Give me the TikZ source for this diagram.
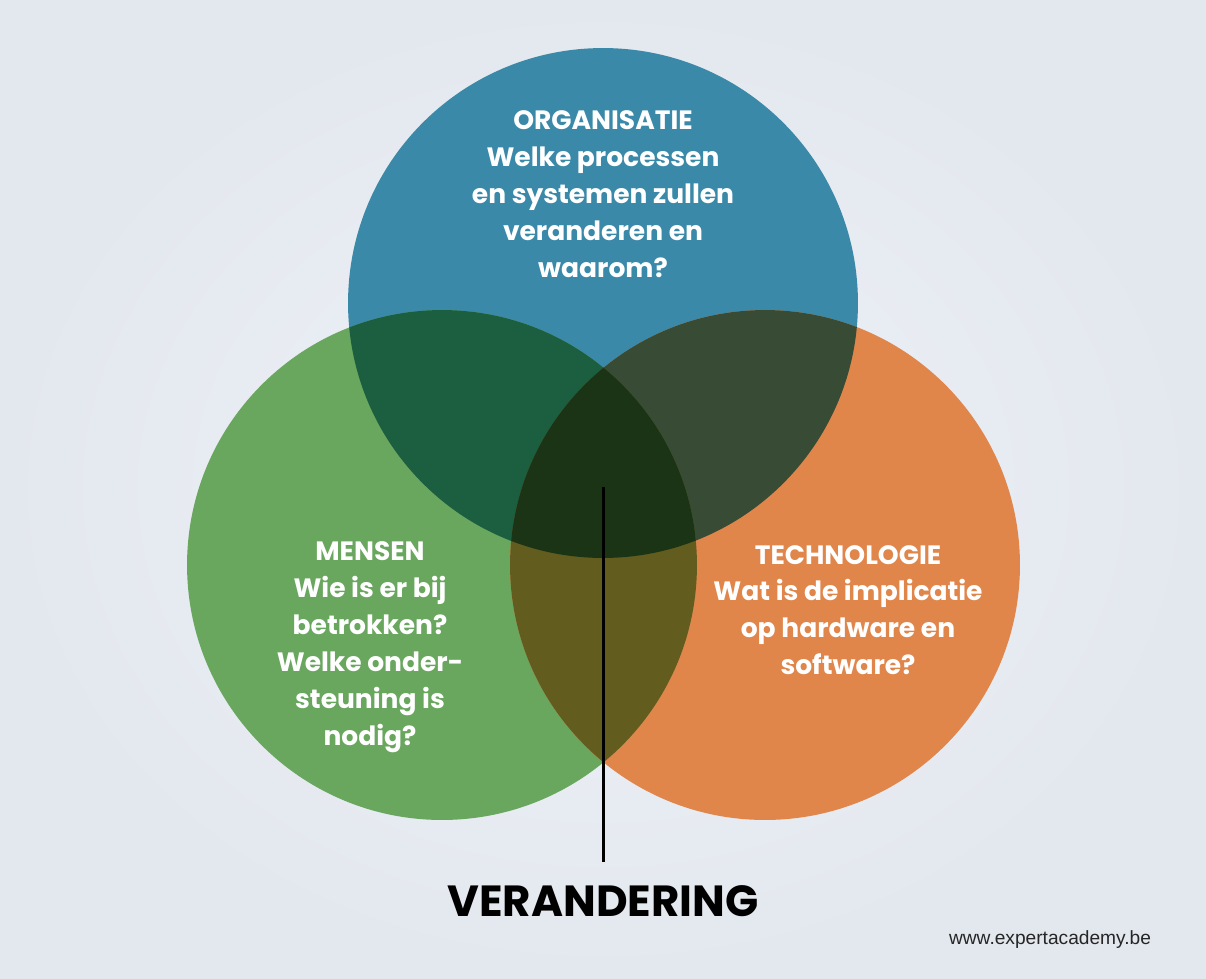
\documentclass[tikz,border=0pt]{standalone}
\usepackage{fontspec}
\setmainfont{Poppins}
\newfontfamily\webfont{Liberation Sans}
\usetikzlibrary{positioning}

\definecolor{orgblue}{HTML}{3A89A8}
\definecolor{mengreen}{HTML}{69A65E}
\definecolor{techorange}{HTML}{E0864B}
\definecolor{orgmen}{HTML}{1C5E40}
\definecolor{orgtech}{HTML}{384B35}
\definecolor{mentech}{HTML}{635C1F}
\definecolor{allthree}{HTML}{1B3416}
\definecolor{bginner}{HTML}{EFF3F9}
\definecolor{bgouter}{HTML}{E3E7EE}

\begin{document}
\begin{tikzpicture}[
    x=0.02cm, y=-0.02cm,
    circletext/.style={text=white, align=center, font=\bfseries\fontsize{15.1}{21}\selectfont},
    bigtitle/.style={text=black, font=\bfseries\fontsize{24.8}{30}\selectfont, inner sep=0pt},
    weblabel/.style={text=black!85, font=\webfont\fontsize{10.9}{13}\selectfont},
    pointer/.style={line width=1.7pt, black}
]
% background
\shade[inner color=bginner, outer color=bgouter] (0,0) rectangle (1206,978);
\useasboundingbox (0,0) rectangle (1206,978);

\coordinate (org) at (603,303);
\coordinate (men) at (442,565);
\coordinate (tech) at (765,565);

% circles
\fill[orgblue] (org) circle[radius=5.1cm];
\fill[mengreen] (men) circle[radius=5.1cm];
\fill[techorange] (tech) circle[radius=5.1cm];

% overlaps
\begin{scope}
  \clip (org) circle[radius=5.1cm];
  \fill[orgmen] (men) circle[radius=5.1cm];
  \fill[orgtech] (tech) circle[radius=5.1cm];
\end{scope}
\begin{scope}
  \clip (men) circle[radius=5.1cm];
  \fill[mentech] (tech) circle[radius=5.1cm];
  \clip (tech) circle[radius=5.1cm];
  \fill[allthree] (org) circle[radius=5.1cm];
\end{scope}

% texts
\node (orgtext) [circletext] at (603,194) {ORGANISATIE\\Welke processen\\en systemen zullen\\veranderen en\\waarom?};
\node (mentext) [circletext] at (370,647) {MENSEN\\Wie is er bij\\betrokken?\\Welke onder-\\steuning is\\nodig?};
\node (techtext) [circletext] at (848,610) {TECHNOLOGIE\\Wat is de implicatie\\op hardware en\\software?};

\coordinate (linetop) at (603,487);
\node (change) [bigtitle] at (603,901) {VERANDERING};
\draw[pointer] (linetop) -- ([yshift=0.46cm]change.north);

\node (web) [weblabel] at (1050,940) {www.expertacademy.be};
\end{tikzpicture}
\end{document}
